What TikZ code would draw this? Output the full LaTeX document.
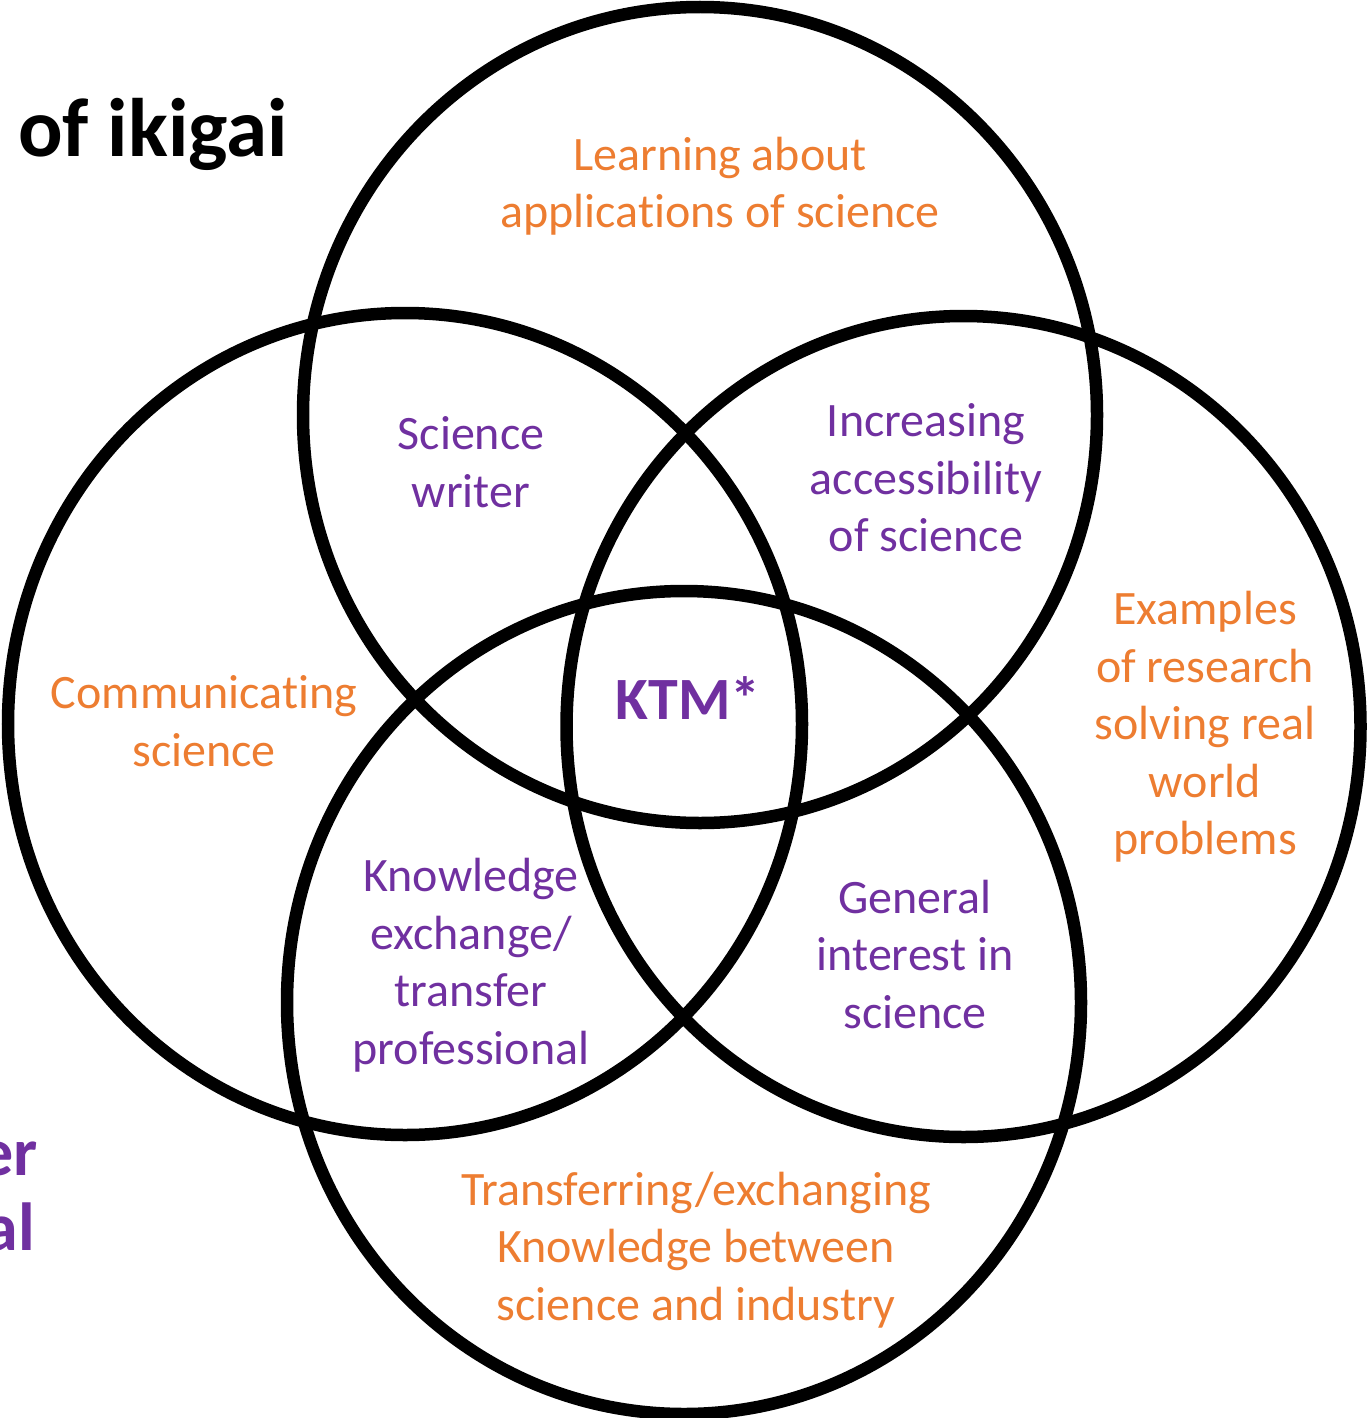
\documentclass[tikz,border=0pt]{standalone}
\usepackage{fontspec}
\setmainfont{Carlito}[Ligatures={NoCommon}]
\definecolor{korange}{HTML}{ED7D31}
\definecolor{kpurple}{HTML}{7030A0}
\begin{document}
\begin{tikzpicture}[x=1pt,y=-1pt,
  ring/.style={draw=black,line width=12.5pt},
  otext/.style={text=korange,align=center,inner sep=0pt,font=\fontsize{48}{57.5}\selectfont},
  ptext/.style={text=kpurple,align=center,inner sep=0pt,font=\fontsize{48}{57.5}\selectfont},
  ]
\useasboundingbox (0,0) rectangle (1370,1418);
\clip (0,0) rectangle (1370,1418);
% circles
\draw[ring] (700,415) ellipse (397 and 408);
\draw[ring] (405,724) ellipse (397 and 411);
\draw[ring] (963.5,726.5) ellipse (397 and 410.5);
\draw[ring] (684,1002.5) ellipse (397 and 411.5);
% partial titles (cut off at the left edge, as in the reference)
\node[anchor=base west,inner sep=0pt,font=\fontsize{83}{90}\selectfont\bfseries] (title) at (18,157) {of ikigai};
\node[anchor=base east,inner sep=0pt,text=kpurple,font=\fontsize{68}{75}\selectfont\bfseries] (er) at (38,1175) {er};
\node[anchor=base east,inner sep=0pt,text=kpurple,font=\fontsize{68}{75}\selectfont\bfseries] (al) at (35,1250) {al};
% labels
\node[otext] (learn) at (720,186) {Learning about\\applications of science};
\node[ptext] (writer) at (471,462) {Science\\writer};
\node[ptext] (access) at (926,478) {Increasing\\accessibility\\of science};
\node[otext] (comm) at (204,721) {Communicating\\science};
\node[text=kpurple,inner sep=0pt,font=\fontsize{60}{66}\selectfont\bfseries] (ktm) at (688,698) {KTM*};
\node[otext] (examples) at (1205,727) {Examples\\of research\\solving real\\world\\problems};
\node[ptext] (knowledge) at (471,965) {Knowledge\\exchange/\\transfer\\professional};
\node[ptext] (general) at (915,954) {General\\interest in\\science};
\node[otext] (transfer) at (696,1250) {Transferring/exchanging\\Knowledge between\\science and industry};
\end{tikzpicture}
\end{document}
